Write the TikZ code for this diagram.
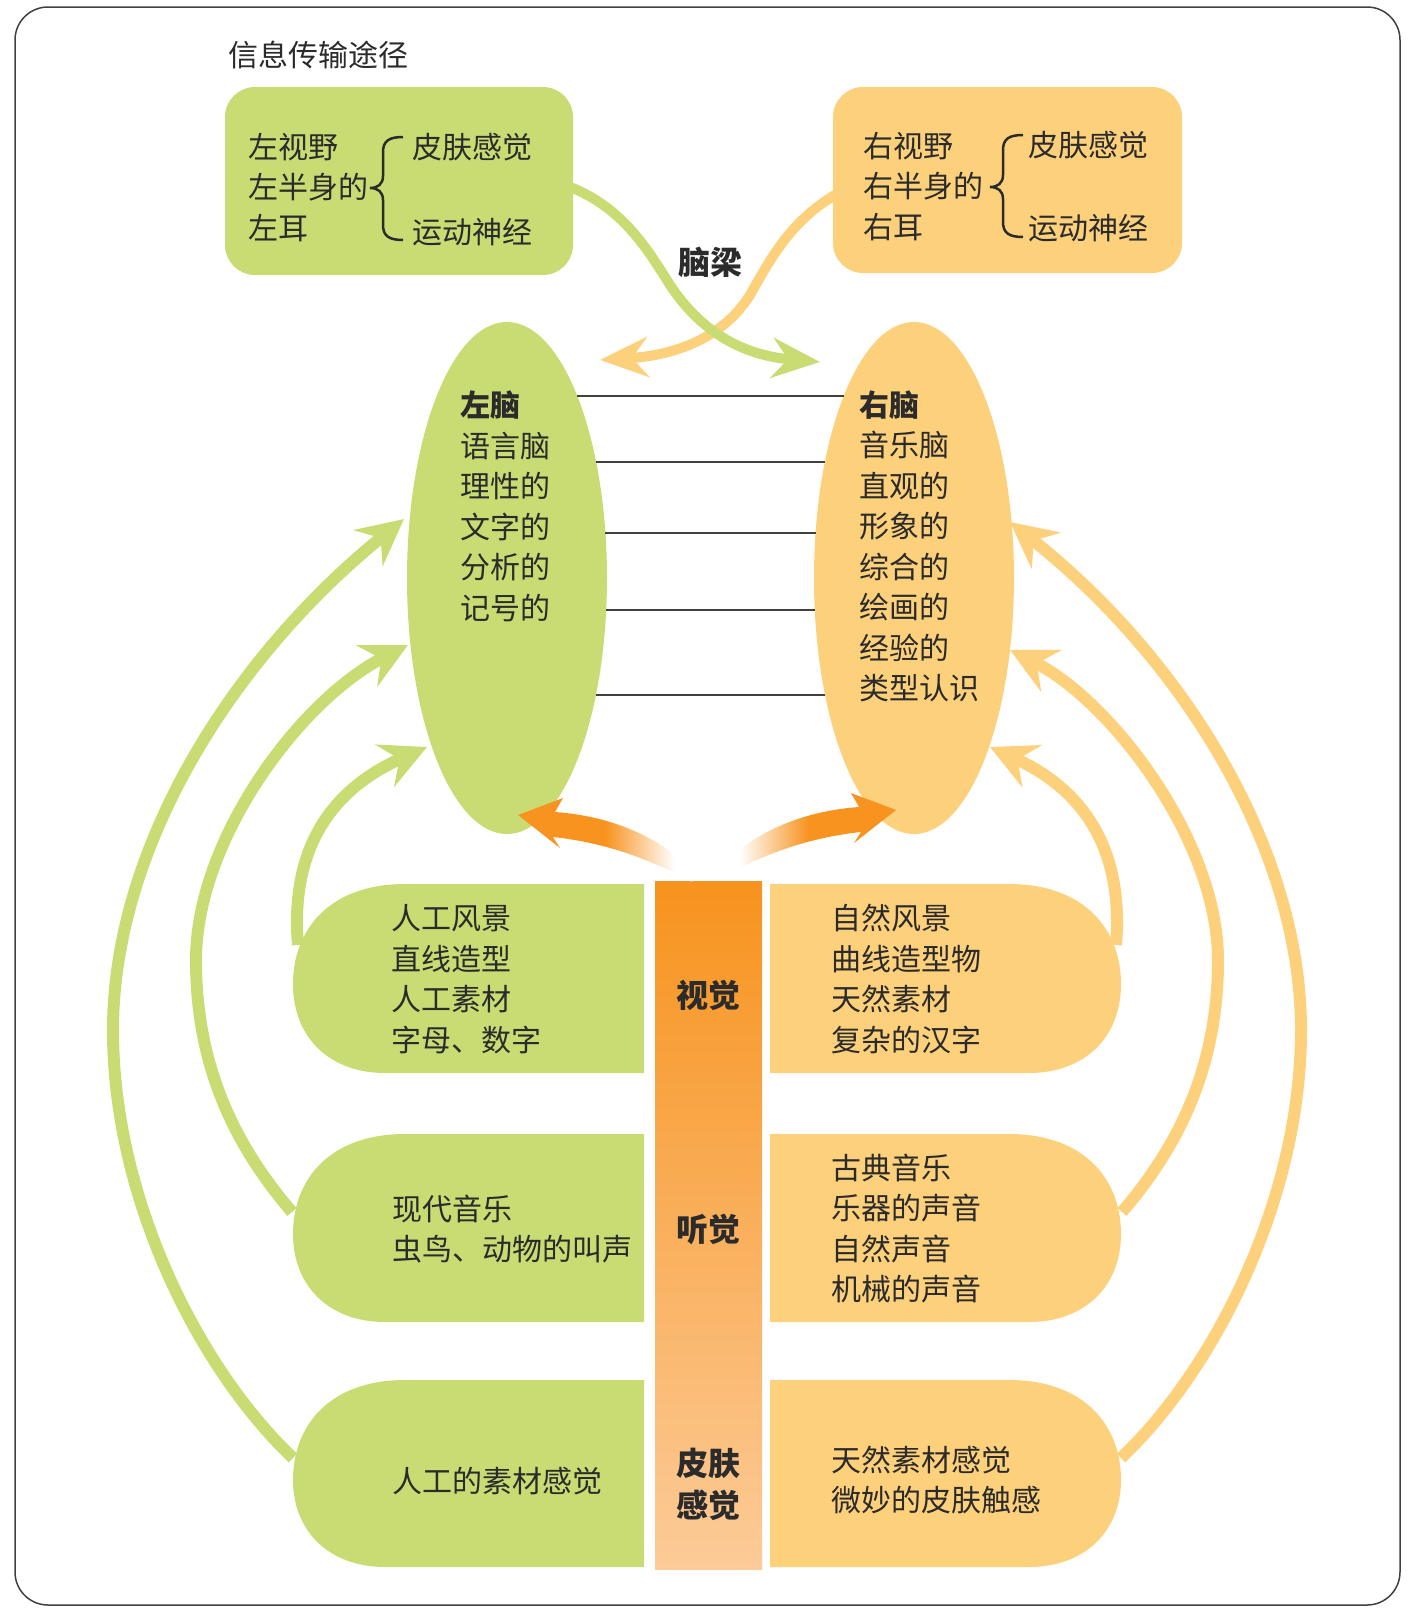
\documentclass[tikz,border=0pt]{standalone}
\usepackage{fontspec}
\setmainfont{Noto Sans CJK SC}
\usetikzlibrary{shapes.geometric,arrows.meta}
\definecolor{gr}{HTML}{C9DC74}
\definecolor{orl}{HTML}{FDD07C}
\definecolor{ordk}{HTML}{F7931E}
\definecolor{orbot}{HTML}{FCCB98}
\definecolor{ink}{HTML}{2B2B2B}
\pgfdeclarehorizontalshading{fadeToRight}{100bp}{color(0bp)=(ordk); color(25bp)=(ordk); color(50bp)=(ordk); color(70bp)=(white); color(100bp)=(white)}
\pgfdeclarehorizontalshading{fadeToLeft}{100bp}{color(0bp)=(white); color(30bp)=(white); color(50bp)=(ordk); color(75bp)=(ordk); color(100bp)=(ordk)}
\newcommand\gnrow[2]{\fill[gr] (644,#1) -- (405,#1) .. controls (330,#1) and (293,#1+45) .. (293,#1+100) .. controls (293,#2-35) and (330,#2) .. (385,#2) -- (644,#2) -- cycle;}
\newcommand\ornrow[2]{\fill[orl] (770,#1) -- (1009,#1) .. controls (1084,#1) and (1121,#1+45) .. (1121,#1+100) .. controls (1121,#2-35) and (1084,#2) .. (1029,#2) -- (770,#2) -- cycle;}
\begin{document}
\begin{tikzpicture}[x=1pt,y=-1pt,
  txt/.style={inner sep=0pt, anchor=west, align=left, text=ink, font=\fontsize{30}{40.5}\selectfont},
  lbl/.style={inner sep=0pt, align=center, text=ink, font=\fontsize{32}{42}\selectfont\bfseries},
  garrow/.style={draw=gr, line width=12pt, -{Stealth[length=46pt,width=46pt,inset=16pt]}},
  oarrow/.style={draw=orl, line width=12pt, -{Stealth[length=46pt,width=46pt,inset=16pt]}},
  ccg/.style={draw=gr, line width=10pt, -{Stealth[length=48pt,width=40pt,inset=16pt]}},
  cco/.style={draw=orl, line width=10pt, -{Stealth[length=48pt,width=40pt,inset=16pt]}},
  brc/.style={draw=ink, line width=2.5pt},
  sep/.style={draw=ink!90, line width=2pt},
  brain/.style={ellipse, inner sep=0pt, minimum width=200pt, minimum height=512pt}
]
\useasboundingbox (0,0) rectangle (1411,1612);
% frame
\draw[draw=black!75, line width=1.5pt, rounded corners=33pt] (15,7) rectangle (1400,1605);

% title
\node[txt] (title) at (228,55) {信息传输途径};

% top boxes
\node[fill=gr, rounded corners=30pt, inner sep=0pt, minimum width=348pt, minimum height=188pt] (tl) at (399,181) {};
\node[fill=orl, rounded corners=30pt, inner sep=0pt, minimum width=349pt, minimum height=186pt] (tr) at (1007.5,180) {};

% corpus callosum arrows
\coordinate (ccos) at (840,192);
\coordinate (ccot) at (600,360);
\coordinate (ccgs) at (565,185);
\coordinate (ccgt) at (820,362);
\draw[cco] (ccos) .. controls (790,220) and (770,260) .. (750,295) .. controls (725,335) and (680,355) .. (ccot);
\draw[ccg] (ccgs) .. controls (620,205) and (645,245) .. (670,285) .. controls (700,330) and (740,355) .. (ccgt);
\node[lbl] (nl) at (710,262) {脑梁};

% brains
\node[brain, fill=gr] (lb) at (507,578) {};
\node[brain, fill=orl] (rb) at (914,578) {};
\draw[sep] (577,396) -- (844,396);
\draw[sep] (596,462) -- (825,462);
\draw[sep] (605,533) -- (816,533);
\draw[sep] (606,610) -- (815,610);
\draw[sep] (596,695) -- (825,695);

% rows
\gnrow{884}{1073}
\gnrow{1134}{1322}
\gnrow{1380}{1567}
\ornrow{884}{1073}
\ornrow{1134}{1322}
\ornrow{1380}{1567}

% side arrows (left)
\coordinate (glos) at (293,1458); \coordinate (glot) at (404,519);
\coordinate (glms) at (292,1212); \coordinate (glmt) at (408,645);
\coordinate (glis) at (298,945);  \coordinate (glit) at (427,747);
\draw[garrow] (glos) .. controls (200,1370) and (113,1200) .. (113,1030) .. controls (113,850) and (230,660) .. (glot);
\draw[garrow] (glms) .. controls (230,1140) and (196,1060) .. (196,960) .. controls (196,840) and (300,700) .. (glmt);
\draw[garrow] (glis) .. controls (290,850) and (330,790) .. (glit);
% side arrows (right)
\coordinate (oros) at (1121,1458); \coordinate (orot) at (1010,522);
\coordinate (orms) at (1122,1212); \coordinate (ormt) at (1010,650);
\coordinate (oris) at (1116,945);  \coordinate (orit) at (990,747);
\draw[oarrow] (oros) .. controls (1214,1370) and (1301,1200) .. (1301,1030) .. controls (1301,850) and (1184,660) .. (orot);
\draw[oarrow] (orms) .. controls (1184,1140) and (1218,1060) .. (1218,960) .. controls (1218,840) and (1110,700) .. (ormt);
\draw[oarrow] (oris) .. controls (1124,850) and (1084,790) .. (orit);

% central bar
\node[inner sep=0pt, minimum width=107pt, minimum height=688pt, top color=ordk, bottom color=orbot] (bar) at (708.5,1225) {};

% gradient arrows
\shade[shading=fadeToRight] (518,815) -- (563,798) -- (555,812) .. controls (610,816) and (650,835) .. (678,857) -- (692,882) .. controls (655,862) and (610,843) .. (553,837) -- (560,848) -- cycle;
\shade[shading=fadeToLeft] (896,810) -- (851,793) -- (859,807) .. controls (804,811) and (764,830) .. (736,852) -- (722,877) .. controls (759,857) and (804,838) .. (861,832) -- (854,843) -- cycle;

% top box texts
\node[txt] (tlL) at (248,187.5) {左视野\\左半身的\\左耳};
\node[txt] (tlS) at (412,147) {皮肤感觉};
\node[txt] (tlM) at (412,232) {运动神经};
\draw[brc] (403,137) .. controls (389,137) and (383,141) .. (383,152) -- (383,176) .. controls (383,184) and (378,188) .. (370,188) .. controls (378,188) and (383,192) .. (383,200) -- (383,225) .. controls (383,236) and (389,240) .. (403,240);
\node[txt] (trL) at (863,186.5) {右视野\\右半身的\\右耳};
\node[txt] (trS) at (1028,145) {皮肤感觉};
\node[txt] (trM) at (1028,228) {运动神经};
\draw[brc] (1023,135) .. controls (1009,135) and (1003,139) .. (1003,150) -- (1003,175) .. controls (1003,183) and (998,187) .. (990,187) .. controls (998,187) and (1003,191) .. (1003,199) -- (1003,222) .. controls (1003,233) and (1009,237) .. (1023,237);

% brain texts
\node[txt] (lbt) at (460,506.5) {\textbf{左脑}\\语言脑\\理性的\\文字的\\分析的\\记号的};
\node[txt] (rbt) at (859,546.5) {\textbf{右脑}\\音乐脑\\直观的\\形象的\\综合的\\绘画的\\经验的\\类型认识};

% row texts
\node[txt] (l1t) at (391,979) {人工风景\\直线造型\\人工素材\\字母、数字};
\node[txt] (l2t) at (392,1229) {现代音乐\\虫鸟、动物的叫声};
\node[txt] (l3t) at (392,1481) {人工的素材感觉};
\node[txt] (r1t) at (831,979) {自然风景\\曲线造型物\\天然素材\\复杂的汉字};
\node[txt] (r2t) at (831,1228.5) {古典音乐\\乐器的声音\\自然声音\\机械的声音};
\node[txt] (r3t) at (831,1480) {天然素材感觉\\微妙的皮肤触感};

% bar labels
\node[lbl] (vis) at (708,995) {视觉};
\node[lbl] (aud) at (708,1229) {听觉};
\node[lbl] (skn) at (708,1484) {皮肤\\感觉};
\end{tikzpicture}
\end{document}
